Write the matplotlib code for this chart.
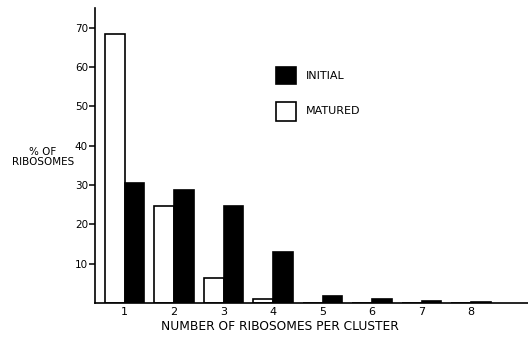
import matplotlib
matplotlib.use("Agg")
import matplotlib.pyplot as plt
import numpy as np

clusters = [1, 2, 3, 4, 5, 6, 7, 8]
matured = [68.4, 24.7, 6.4, 1.0, 0.0, 0.0, 0.0, 0.0]
initial = [30.5, 28.8, 24.7, 13.0, 1.8, 0.9, 0.5, 0.25]
yticks = [10, 20, 30, 40, 50, 60, 70]

plt.rcParams['font.family'] = ['DejaVu Sans']

fig = plt.figure(figsize=(5.28, 3.37), dpi=100)
ax = fig.add_axes([95 / 528, 34 / 337, 1 - 95 / 528, (303 - 8) / 337])

x = np.array(clusters)
w = 0.4
ax.bar(x - w / 2, matured, width=w, color='white', edgecolor='black', linewidth=1.2)
ax.bar(x + w / 2, initial, width=w, color='black', edgecolor='black', linewidth=1.2)

ax.set_xlim(0.4, 9.15)
ax.set_ylim(0, 75)
ax.set_yticks(yticks)
ax.set_xticks(clusters)
ax.tick_params(axis='y', direction='out', length=4, width=1.1, labelsize=7.5, pad=1)
ax.tick_params(axis='x', length=0, labelsize=8, pad=3)
for s in ['top', 'right']:
    ax.spines[s].set_visible(False)
for s in ['left', 'bottom']:
    ax.spines[s].set_linewidth(1.2)

ax.set_xlabel('NUMBER OF RIBOSOMES PER CLUSTER', fontsize=8.8)
ax.xaxis.set_label_coords(0.427, -0.058)
fig.text(43 / 528, 1 - 157 / 337, '% OF\nRIBOSOMES', fontsize=7.5, ha='center', va='center',
         linespacing=1.0)

# legend
ax.bar([4.26], [4.3], bottom=[55.7], width=0.4, color='black', edgecolor='black', linewidth=1.2)
ax.bar([4.26], [4.8], bottom=[46.3], width=0.4, color='white', edgecolor='black', linewidth=1.2)
ax.text(4.66, 57.8, 'INITIAL', fontsize=8, va='center')
ax.text(4.66, 48.9, 'MATURED', fontsize=8, va='center')

fig.savefig('out.png', dpi=100)
